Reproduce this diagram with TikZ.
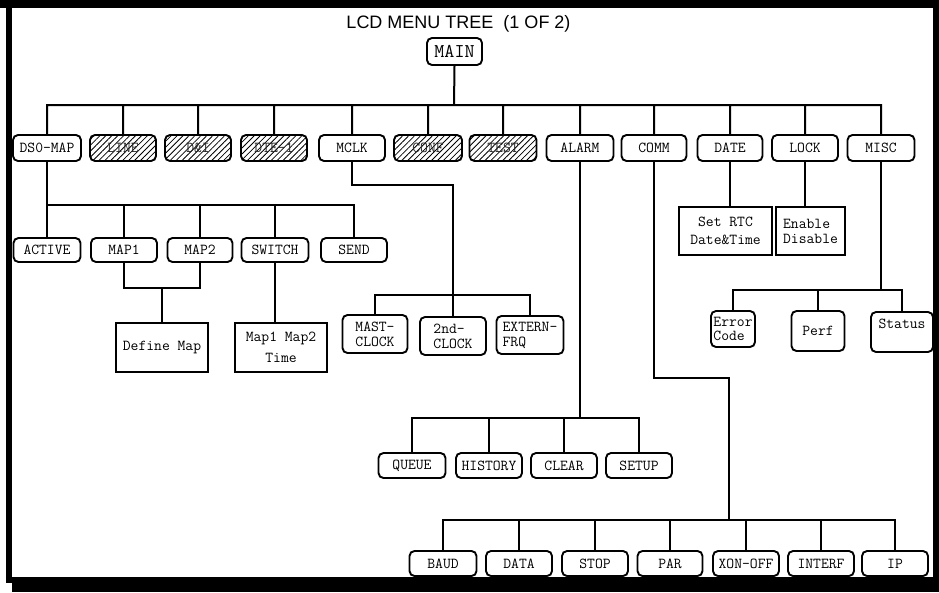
\documentclass[tikz,border=0pt]{standalone}
\usepackage{fontspec}
\setmainfont{Liberation Sans}
\usetikzlibrary{patterns.meta}
\newcommand{\lcdfont}{\ttfamily\fontsize{15.2}{15}\selectfont}

\begin{document}
\begin{tikzpicture}[x=1pt,y=-1pt,
    box/.style={draw, line width=1.9pt, rounded corners=5pt, minimum width=66pt, minimum height=26pt, inner sep=1pt, font=\lcdfont},
    hatch/.style={box, pattern={Lines[angle=45,distance=4.2pt,line width=.8pt]}, text=black!85},
    sq/.style={draw, line width=1.9pt, inner sep=1pt, font=\lcdfont, align=center},
    wire/.style={line width=2pt}]
    \useasboundingbox (0,0) rectangle (939,592);
    % frame
    \fill (0,0) rectangle (939,8);
    \fill (6,0) rectangle (12,583);
    \fill (12,577) rectangle (939,592);
    \fill (933,0) rectangle (939,592);

    \node[font=\fontsize{18}{20}\selectfont, anchor=base] (title) at (458.5,28) {LCD MENU TREE~~(1 OF 2)};
    \node[box, minimum width=55pt, minimum height=27pt, font=\ttfamily\fontsize{19.5}{20}\selectfont] (MAIN) at (454.5,51.5) {MAIN};

    % top menu
    \node[box, minimum width=68pt] (DS0) at (47,148) {DS0-MAP};
    \node[hatch] (LINE) at (123,148) {LINE};
    \node[hatch] (DI) at (198,148) {D\&I};
    \node[hatch] (DTE) at (274,148) {DTE-1};
    \node[box] (MCLK) at (352,148) {MCLK};
    \node[hatch, minimum width=68pt] (CONF) at (428,148) {CONF};
    \node[hatch, minimum width=67pt] (TEST) at (503,148) {TEST};
    \node[box, minimum width=67pt] (ALARM) at (580,148) {ALARM};
    \node[box, minimum width=65pt] (COMM) at (654,148) {COMM};
    \node[box, minimum width=65pt] (DATE) at (730,148) {DATE};
    \node[box] (LOCK) at (805,148) {LOCK};
    \node[box, minimum width=67pt] (MISC) at (881,148) {MISC};

    \coordinate (b1) at (454,105);
    \draw[wire] (MAIN.south) -- (b1)
        (DS0.north) |- (b1) (LINE.north) |- (b1) (DI.north) |- (b1) (DTE.north) |- (b1)
        (MCLK.north) |- (b1) (CONF.north) |- (b1) (TEST.north) |- (b1) (ALARM.north) |- (b1)
        (COMM.north) |- (b1) (DATE.north) |- (b1) (LOCK.north) |- (b1) (MISC.north) |- (b1);

    % DS0-MAP
    \node[box, minimum width=67pt, minimum height=24pt] (ACTIVE) at (47,250) {ACTIVE};
    \node[box, minimum height=24pt] (MAP1) at (124,250) {MAP1};
    \node[box, minimum width=65pt, minimum height=24pt] (MAP2) at (200,250) {MAP2};
    \node[box, minimum width=67pt, minimum height=24pt] (SWITCH) at (275,250) {SWITCH};
    \node[box, minimum height=24pt] (SEND) at (354,250) {SEND};
    \coordinate (b2) at (47,205);
    \draw[wire] (DS0.south) -- (ACTIVE.north)
        (MAP1.north) |- (b2) (MAP2.north) |- (b2) (SWITCH.north) |- (b2) (SEND.north) |- (b2);

    \node[sq, minimum width=92pt, minimum height=49pt] (DEFMAP) at (162,347.5) {Define Map};
    \node[sq, minimum width=92pt, minimum height=49pt, font=\ttfamily\fontsize{15.2}{21}\selectfont] (SWTIME) at (281,347.5) {Map1 Map2\\Time};
    \coordinate (mj) at (162,288);
    \draw[wire] (MAP1.south) |- (mj) (MAP2.south) |- (mj) (mj) -- (DEFMAP.north);
    \draw[wire] (SWITCH.south) -- (SWITCH.south |- SWTIME.north);

    % MCLK
    \node[box, minimum width=65pt, minimum height=38pt, align=center] (MAST) at (375,334) {MAST-\\CLOCK};
    \node[box, minimum height=38pt, align=left] (CLK2) at (453,336) {2nd-\\CLOCK};
    \node[box, minimum width=67pt, minimum height=38pt, align=left] (EXT) at (530,335) {EXTERN-\\FRQ};
    \coordinate (mc) at (453,185);
    \coordinate (b3) at (453,295);
    \draw[wire] (MCLK.south) |- (mc) -- (CLK2.north) (MAST.north) |- (b3) (EXT.north) |- (b3);

    % ALARM
    \node[box, minimum width=67pt, minimum height=25pt] (QUEUE) at (412,465.5) {QUEUE};
    \node[box, minimum height=25pt] (HISTORY) at (489,465.5) {HISTORY};
    \node[box, minimum height=25pt] (CLEAR) at (564,465.5) {CLEAR};
    \node[box, minimum height=25pt] (SETUP) at (639,465.5) {SETUP};
    \coordinate (b4) at (ALARM.south |- 0,418);
    \draw[wire] (ALARM.south) -- (b4)
        (QUEUE.north) |- (b4) (HISTORY.north) |- (b4) (CLEAR.north) |- (b4) (SETUP.north) |- (b4);

    % COMM
    \node[box, minimum width=67pt, minimum height=25pt] (BAUD) at (443,563.5) {BAUD};
    \node[box, minimum height=25pt] (DATA) at (519,563.5) {DATA};
    \node[box, minimum height=25pt] (STOP) at (595,563.5) {STOP};
    \node[box, minimum width=65pt, minimum height=25pt] (PAR) at (670,563.5) {PAR};
    \node[box, minimum height=25pt] (XONOFF) at (746,563.5) {XON-OFF};
    \node[box, minimum height=25pt] (INTERF) at (821,563.5) {INTERF};
    \node[box, minimum height=25pt] (IP) at (895,563.5) {IP};
    \coordinate (cm) at (729,378);
    \coordinate (b5) at (729,520);
    \draw[wire] (COMM.south) |- (cm) -- (b5)
        (BAUD.north) |- (b5) (DATA.north) |- (b5) (STOP.north) |- (b5) (PAR.north) |- (b5)
        (XONOFF.north) |- (b5) (INTERF.north) |- (b5) (IP.north) |- (b5);

    % DATE, LOCK
    \node[sq, minimum width=93pt, minimum height=48pt, font=\ttfamily\fontsize{15.2}{18}\selectfont] (RTC) at (725.5,231) {Set RTC\\Date\&Time};
    \node[sq, minimum width=69pt, minimum height=48pt, align=left] (EN) at (810.5,231) {Enable\\Disable};
    \draw[wire] (DATE.south) -- (DATE.south |- RTC.north);
    \draw[wire] (LOCK.south) -- (LOCK.south |- EN.north);

    % MISC
    \node[box, minimum width=44pt, minimum height=36pt, align=left, font=\ttfamily\fontsize{15.2}{14}\selectfont] (ERR) at (733,329) {Error\\Code};
    \node[box, minimum width=53pt, minimum height=40pt] (PERF) at (818,331) {Perf};
    \node[box, minimum width=62pt, minimum height=40pt, text depth=16pt] (STATUS) at (902,332) {Status};
    \coordinate (b6) at (MISC.south |- 0,290);
    \draw[wire] (MISC.south) -- (b6) (ERR.north) |- (b6) (PERF.north) |- (b6) (STATUS.north) |- (b6);
\end{tikzpicture}
\end{document}
